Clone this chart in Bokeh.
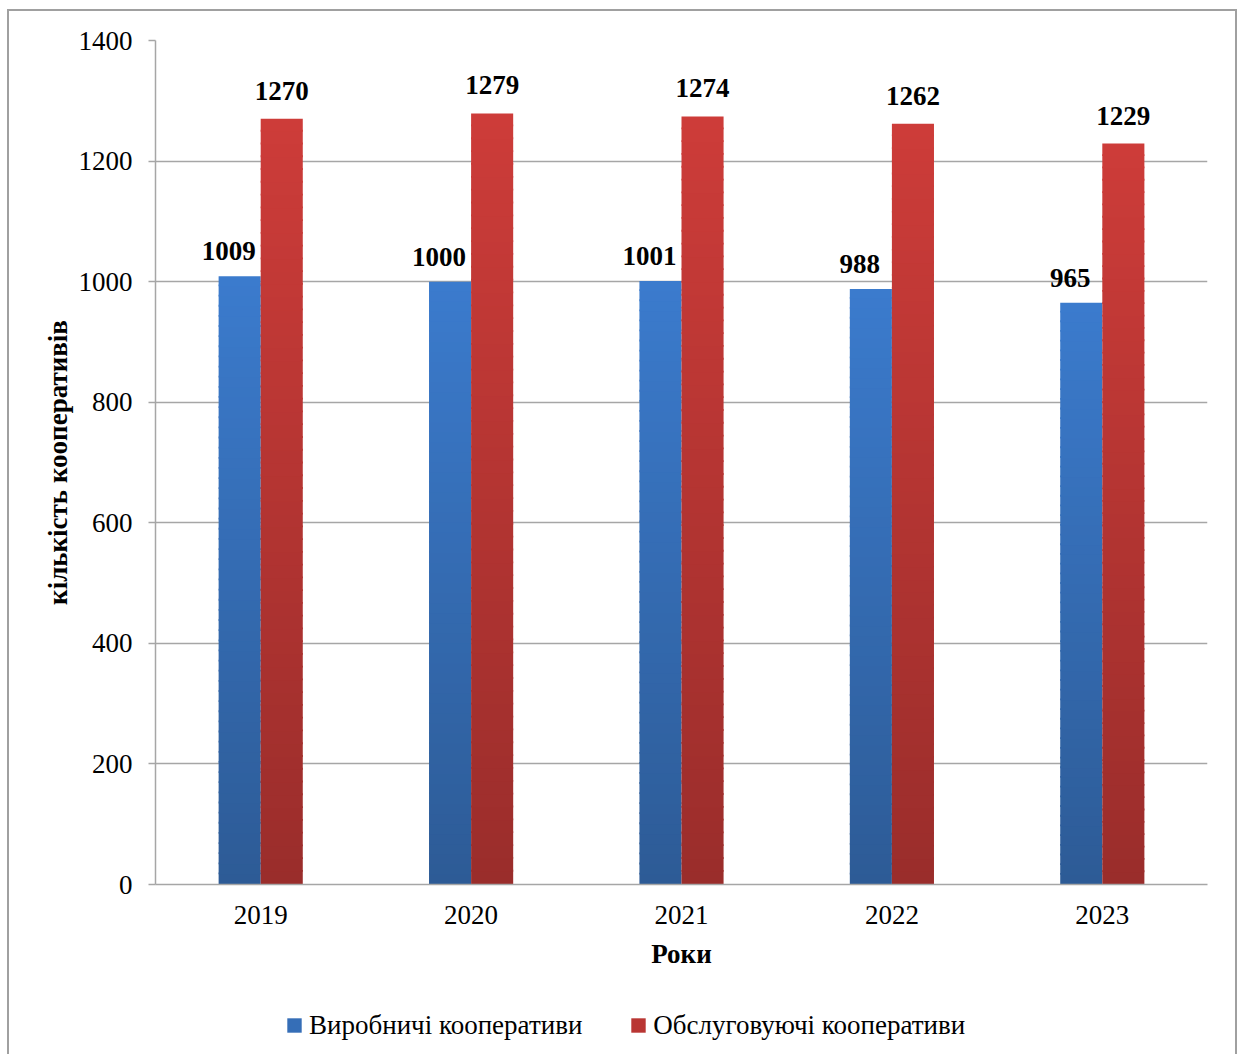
import numpy as np
from bokeh.plotting import figure
from bokeh.layouts import column
from bokeh.models import ColumnDataSource, Legend, LegendItem, FactorRange, Range1d
from bokeh.transform import dodge
from bokeh.core.properties import value
from bokeh.embed import file_html
from bokeh.resources import INLINE

# ---- data ----
years = ["2019", "2020", "2021", "2022", "2023"]
production = [1009, 1000, 1001, 988, 965]
service = [1270, 1279, 1274, 1262, 1229]
series_names = ["Виробничі кооперативи", "Обслуговуючі кооперативи"]
y_ticks = [0, 200, 400, 600, 800, 1000, 1200, 1400]
x_title = "Роки"
y_title = "кількість кооперативів"

FONT = "Liberation Serif"
FS = "27px"
GRID = "#a6a6a6"
MX, MY = 9, 11          # page offset of the chart box
W = 1226                # chart box width
H1, H2 = 989, 54        # plot height, legend strip height

p = figure(x_range=FactorRange(factors=years, range_padding=0),
           y_range=(0, 1400), width=W, height=H1,
           output_backend="svg", toolbar_location=None,
           min_border_left=155 - MX, min_border_right=MX + W - 1207,
           min_border_top=40 - MY, min_border_bottom=MY + H1 - 884)
p.outline_line_color = None


def hex2rgb(h):
    h = h.lstrip("#")
    return np.array([int(h[i:i + 2], 16) for i in (0, 2, 4)], dtype=float)


def rgb2hex(c):
    return "#%02x%02x%02x" % tuple(int(round(v)) for v in c)


N = 60
specs = [(production, -0.1, "#2d5b96", "#3b7bcd"),
         (service, 0.1, "#9a2d2b", "#cd3c39")]
mid_colors = []
for vals, off, c_bot, c_top in specs:
    vals = np.array(vals, dtype=float)
    cb, ct = hex2rgb(c_bot), hex2rgb(c_top)
    mid_colors.append(rgb2hex(cb + (ct - cb) * 0.6))
    xs, bs, ts, cs = [], [], [], []
    for i in range(N):
        col = rgb2hex(cb + (ct - cb) * (i + 0.5) / N)
        for yr, v in zip(years, vals):
            xs.append(yr)
            bs.append(v * i / N)
            ts.append(min(v, v * (i + 1) / N + 3))  # slight overlap hides seams
            cs.append(col)
    src = ColumnDataSource(dict(x=xs, b=bs, t=ts, c=cs))
    p.vbar(x=dodge("x", off, range=p.x_range), bottom="b", top="t",
           width=0.2, fill_color="c", line_color=None, source=src)

# value labels
lab_src = ColumnDataSource(dict(x=years, p=production, s=service,
                                pl=[str(v) for v in production],
                                sl=[str(v) for v in service]))
p.text(x=dodge("x", -0.1, range=p.x_range), y="p", text="pl", source=lab_src,
       x_offset=-11, y_offset=-25, text_align="center", text_baseline="alphabetic",
       text_font=value(FONT), text_font_style="bold", text_font_size=FS,
       text_color="black")
p.text(x=dodge("x", 0.1, range=p.x_range), y="s", text="sl", source=lab_src,
       x_offset=0, y_offset=-28, text_align="center", text_baseline="alphabetic",
       text_font=value(FONT), text_font_style="bold", text_font_size=FS,
       text_color="black")

# axes
p.xgrid.grid_line_color = None
p.ygrid.grid_line_color = GRID
p.ygrid.grid_line_width = 1.5
p.yaxis.ticker = y_ticks
for ax in (p.xaxis, p.yaxis):
    ax.axis_line_color = GRID
    ax.axis_line_width = 1.5
    ax.major_label_text_font = FONT
    ax.major_label_text_font_size = FS
    ax.major_label_text_color = "black"
    ax.axis_label_text_font = FONT
    ax.axis_label_text_font_style = "bold"
    ax.axis_label_text_font_size = FS
    ax.axis_label_text_color = "black"
    ax.minor_tick_line_color = None
p.yaxis.major_tick_line_color = GRID
p.yaxis.major_tick_line_width = 1.5
p.yaxis.major_tick_out = 7
p.yaxis.major_tick_in = 0
p.yaxis.major_label_standoff = 16
p.yaxis.axis_label = y_title
p.yaxis.axis_label_standoff = 3
p.xaxis.major_tick_line_color = None
p.xaxis.major_label_standoff = 15
p.xaxis.axis_label = x_title
p.xaxis.axis_label_standoff = 12

# legend strip (separate small figure so the legend can sit left of centre);
# its renderers are hidden copies of the series, used only for the legend keys
p2 = figure(width=W, height=H2, x_range=FactorRange(factors=years),
            y_range=Range1d(-2, -1),
            x_axis_type=None, y_axis_type=None,
            output_backend="svg", toolbar_location=None,
            min_border_left=0, min_border_right=0, min_border_top=0, min_border_bottom=0)
p2.outline_line_color = None
p2.xgrid.grid_line_color = None
p2.ygrid.grid_line_color = None
leg_r = [p2.vbar(x=years, top=vals, width=0.2, fill_color=c, line_color=None, visible=False)
         for vals, c in zip([production, service], mid_colors)]
legend = Legend(items=[LegendItem(label=series_names[0], renderers=[leg_r[0]]),
                       LegendItem(label=series_names[1], renderers=[leg_r[1]])],
                orientation="horizontal", location=(130, 13.5), margin=0,
                glyph_width=18, glyph_height=18, label_standoff=6, spacing=47,
                padding=4, border_line_color=None, background_fill_alpha=0,
                label_text_font=FONT, label_text_font_size=FS,
                label_text_color="black")
p2.add_layout(legend, "center")

shadow = ", ".join(f"{dx}px {dy}px 0 0 #a0a0a0" for dx, dy in
                   [(-2, 0), (2, 0), (0, -2), (-2, -2), (2, -2)])
page = column(p, p2, spacing=0,
              styles={"margin-left": f"{MX}px", "margin-top": f"{MY}px",
                      "box-shadow": shadow})

open("out.html", "w").write(file_html(page, INLINE))
